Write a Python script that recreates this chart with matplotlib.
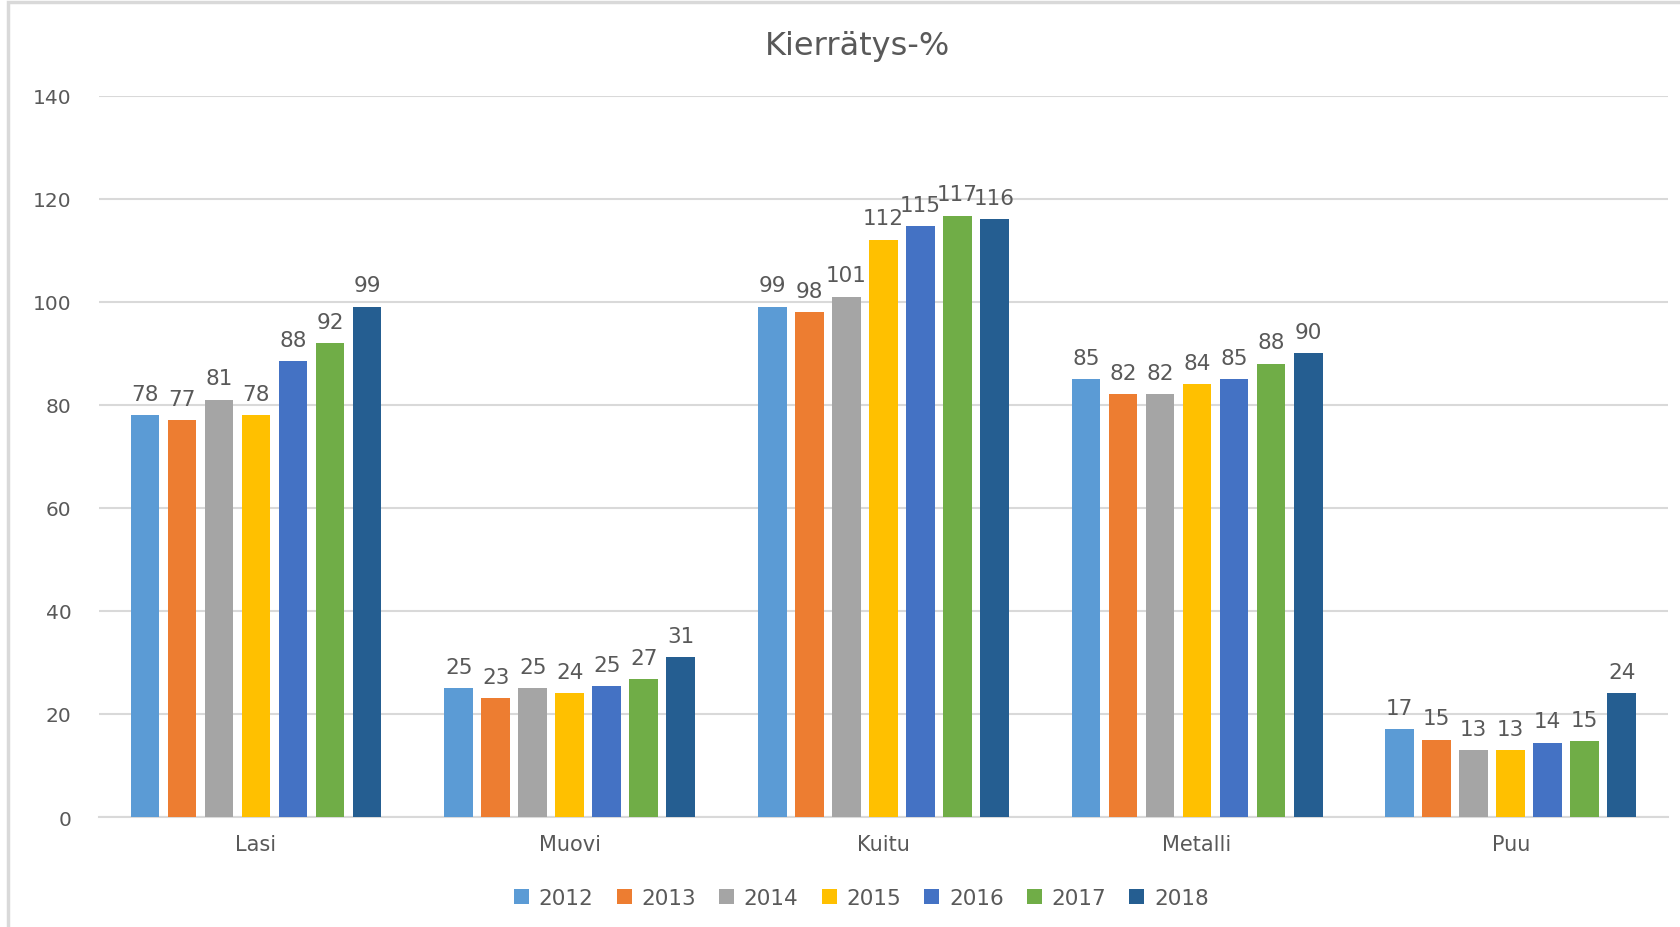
import numpy as np
import matplotlib
matplotlib.use('Agg')
import matplotlib.pyplot as plt
from matplotlib.patches import Rectangle

# ===== データ =====
categories = ['Lasi', 'Muovi', 'Kuitu', 'Metalli', 'Puu']
years = ['2012', '2013', '2014', '2015', '2016', '2017', '2018']
values = {
    '2012': [78, 25, 99, 85, 17],
    '2013': [77, 23, 98, 82, 15],
    '2014': [81, 25, 101, 82, 13],
    '2015': [78, 24, 112, 84, 13],
    '2016': [88.4, 25.4, 114.6, 85, 14.4],
    '2017': [92, 26.8, 116.7, 88, 14.7],
    '2018': [99, 31, 116, 90, 24],
}
colors = ['#5B9BD5', '#ED7D31', '#A5A5A5', '#FFC000', '#4472C4', '#70AD47', '#255E91']

text_color = '#595959'
plt.rcParams['font.family'] = ['DejaVu Sans']

fig = plt.figure(figsize=(16.81, 9.28), dpi=100)
ax = fig.add_axes([0.059, 0.1185, 0.933, 0.7775])

# ===== 棒グラフ =====
x = np.arange(len(categories))
bar_w = 0.092
pitch = (0.8 - bar_w) / (len(years) - 1)
for i, y in enumerate(years):
    pos = x - 0.4 + bar_w / 2 + pitch * i
    bars = ax.bar(pos, values[y], width=bar_w, color=colors[i], label=y, zorder=3)
    for b, v in zip(bars, values[y]):
        ax.text(b.get_x() + b.get_width() / 2, v + 2.2, f'{int(round(v))}',
                ha='center', va='bottom', fontsize=15.5, color=text_color)

ax.set_xlim(-0.5, len(categories) - 0.5)
ax.set_ylim(0, 140)
ax.set_yticks(range(0, 141, 20))
ax.set_xticks(x)
ax.set_xticklabels(categories, fontsize=15)
ax.yaxis.grid(True, color='#d9d9d9', linewidth=1.5, zorder=0)
for s in ['top', 'right', 'left']:
    ax.spines[s].set_visible(False)
ax.spines['bottom'].set_color('#d9d9d9')
ax.spines['bottom'].set_linewidth(1.5)
ax.tick_params(axis='both', length=0, colors=text_color)
ax.tick_params(axis='y', pad=20, labelsize=14.5)
ax.tick_params(axis='x', pad=12)

fig.text(0.51, 0.950, 'Kierrätys-%', ha='center', va='center', fontsize=23, color=text_color)

ax.legend(loc='upper center', bbox_to_anchor=(0.486, -0.072), ncol=7, frameon=False,
          fontsize=15.5, labelcolor=text_color, handlelength=0.7, handleheight=0.7,
          handletextpad=0.45, columnspacing=1.07)

# 外枠
fig.patches.append(Rectangle((0.005, -0.01), 1.0, 1.007, transform=fig.transFigure,
                             fill=False, edgecolor='#d9d9d9', linewidth=2.5))

plt.savefig('out.png', dpi=100)
